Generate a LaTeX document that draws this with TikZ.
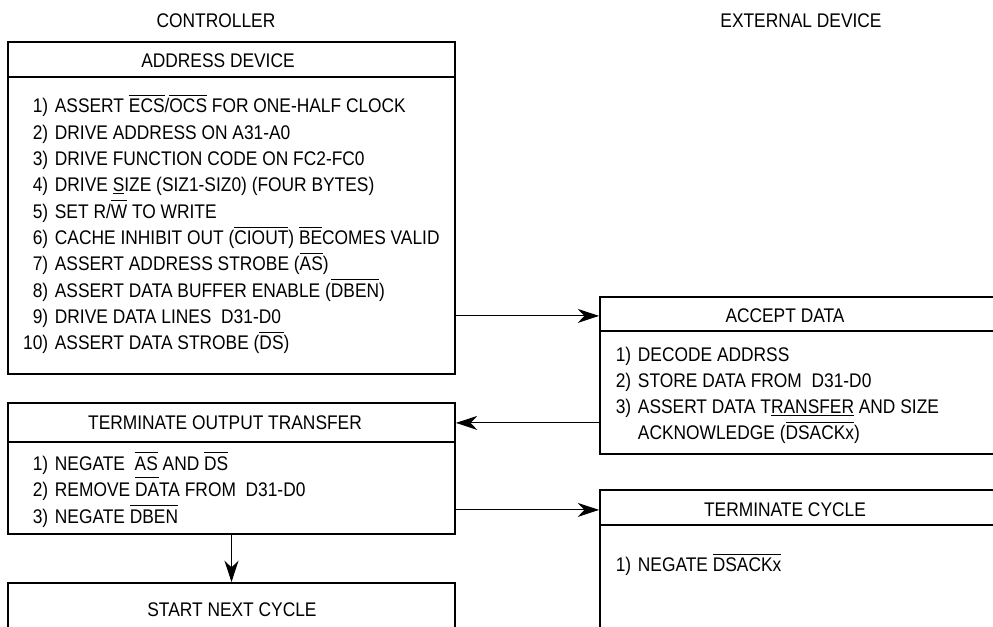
\documentclass[tikz,border=0pt]{standalone}
\usepackage{fontspec}
\setmainfont{Liberation Sans}[FakeStretch=0.88]
\usetikzlibrary{arrows.meta,fit}
% bars over / under signal names
\newcommand\ovl[2][2.4pt]{\leavevmode\setbox0\hbox{#2}\rlap{\rule[\dimexpr\fontcharht\font`E+#1\relax]{\wd0}{0.6pt}}\box0\relax}
\newcommand\unl[1]{\leavevmode\setbox0\hbox{#1}\rlap{\rule[-1.4pt]{\wd0}{0.6pt}}\box0\relax}
\newcommand\itm[2]{\makebox[19.5pt][r]{#1}\hspace{5pt}#2}

\begin{document}
\begin{tikzpicture}[x=0.75pt,y=-0.75pt,
 font=\fontsize{14.8pt}{17pt}\selectfont,
 box/.style={draw,line width=1.4pt,inner sep=0pt},
 divider/.style={line width=0.8pt},
 hd/.style={anchor=base,inner sep=0pt},
 row/.style={anchor=base west,inner sep=0pt},
 arr/.style={line width=0.8pt,-{Stealth[length=16pt,width=10.5pt,inset=5pt]}}]
\clip (0,0) rectangle (993,627);
% column titles
\node[hd] (ctl) at (216,27.2) {CONTROLLER};
\node[hd] (ext) at (801,27.2) {EXTERNAL DEVICE};
% controller
\node[box,fit={(8,42)(455,374)}] (addr) {};
\draw[divider] (addr.west |- 0,77) -- (addr.east |- 0,77);
\node[hd] (addrH) at (218,67.7) {ADDRESS DEVICE};
\foreach \t [count=\i] in {%
 {ASSERT \ovl{ECS}/\ovl{OCS} FOR ONE-HALF CLOCK},
 {DRIVE ADDRESS ON A31-A0},
 {DRIVE FUNCTION CODE ON FC2-FC0},
 {DRIVE \unl{S}IZE (SIZ1-SIZ0) (FOUR BYTES)},
 {SET R/\ovl{W} TO WRITE},
 {CACHE INHIBIT OUT (\ovl{CIOUT}) \ovl{BE}COMES VALID},
 {ASSERT ADDRESS STROBE (\ovl{AS})},
 {ASSERT DATA BUFFER ENABLE (\ovl{DBEN})},
 {DRIVE DATA LINES~~D31-D0},
 {ASSERT DATA STROBE (\ovl{DS})}}
 \node[row] (a\i) at (22,{112.7+26.33*(\i-1)}) {\itm{\i)}{\t}};

\node[box,fit={(8,403)(455,534)}] (term) {};
\draw[divider] (term.west |- 0,442) -- (term.east |- 0,442);
\node[hd] (termH) at (225,429.7) {TERMINATE OUTPUT TRANSFER};
\node[row] (t1) at (22,470) {\itm{1)}{NEGATE~~\ovl{AS} AND \ovl{DS}}};
\node[row] (t2) at (22,496.5) {\itm{2)}{REMOVE \ovl[3.5pt]{DA}TA FROM~~D31-D0}};
\node[row] (t3) at (22,523) {\itm{3)}{NEGATE \ovl{DBEN}}};

\node[box,fit={(8,583)(455,650)}] (next) {};
\node[hd] (nextH) at (232,616.7) {START NEXT CYCLE};

% external device
\node[box,fit={(600,297)(1010,454)}] (accept) {};
\draw[divider] (accept.west |- 0,331) -- (accept.east |- 0,331);
\node[hd] (acceptH) at (785,322.7) {ACCEPT DATA};
\node[row] (d1) at (605,361.7) {\itm{1)}{DECODE ADDRSS}};
\node[row] (d2) at (605,387.7) {\itm{2)}{STORE DATA FROM~~D31-D0}};
\node[row] (d3) at (605,413.7) {\itm{3)}{ASSERT DATA T\unl{RANSFER} AND SIZE}};
\node[row] (d4) at (605,439.7) {\itm{}{ACKNOWLEDGE (\ovl{DSACKx})}};

\node[box,fit={(600,490)(1010,650)}] (tcyc) {};
\draw[divider] (tcyc.west |- 0,525) -- (tcyc.east |- 0,525);
\node[hd] (tcycH) at (785,516.7) {TERMINATE CYCLE};
\node[row] (c1) at (605,571.7) {\itm{1)}{NEGATE \ovl{DSACKx}}};

% handshake
\draw[arr] (addr.east |- acceptH) -- (accept.west |- acceptH);
\draw[arr] (accept.west |- termH) -- (term.east |- termH);
\draw[arr] (term.east |- tcycH) -- (tcyc.west |- tcycH);
\draw[arr] (term.south) -- (next.north);
\end{tikzpicture}
\end{document}
